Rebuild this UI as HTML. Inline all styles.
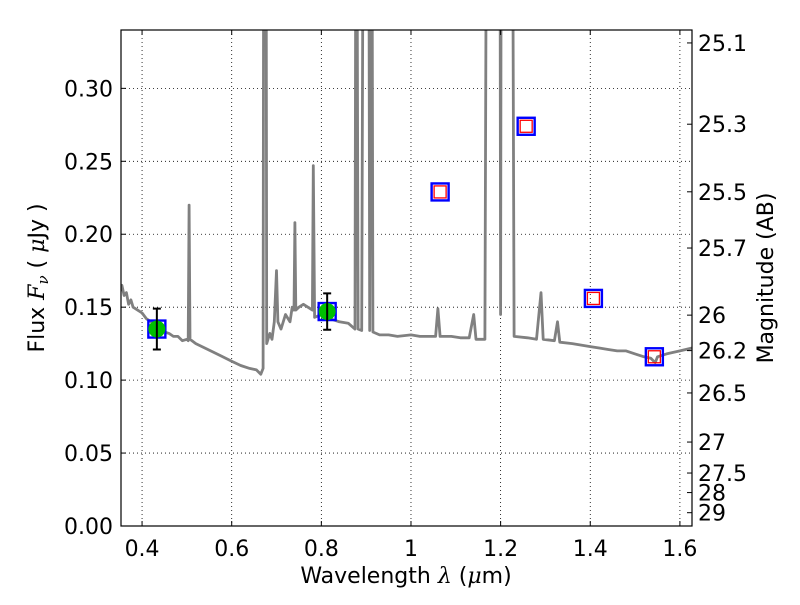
<!DOCTYPE html>
<html><head><meta charset="utf-8"><style>
html,body{margin:0;padding:0;background:#fff;}
svg text{font-family:"DejaVu Sans","Liberation Sans",sans-serif;fill:#000;}
</style></head><body>
<svg id="chart" width="800" height="600" viewBox="0 0 800 600" xmlns="http://www.w3.org/2000/svg">
<defs><clipPath id="pc"><rect x="121" y="30" width="571" height="496"/></clipPath></defs>
<rect x="0" y="0" width="800" height="600" fill="#fff"/>
<g id="grid"></g>
<g id="series" clip-path="url(#pc)"></g>
<rect x="121" y="30" width="571" height="496" fill="none" stroke="#000" stroke-width="1.2"/>
<g id="axes"></g>
<text x="406" y="583" font-size="22" text-anchor="middle">Wavelength  <tspan font-style="italic" font-family="DejaVu Serif, Liberation Serif, serif">λ</tspan> (<tspan font-style="italic" font-family="DejaVu Serif, Liberation Serif, serif">μ</tspan>m)</text>
<text transform="translate(44,278) rotate(-90)" font-size="22" text-anchor="middle">Flux  <tspan font-style="italic" font-family="DejaVu Serif, Liberation Serif, serif">F<tspan font-size="15" dy="4">ν</tspan></tspan><tspan dy="-4">  (  </tspan><tspan font-style="italic" font-family="DejaVu Serif, Liberation Serif, serif">μ</tspan>Jy )</text>
<text transform="translate(773,278) rotate(-90)" font-size="22" text-anchor="middle">Magnitude (AB)</text>
</svg>
<script>
const specWl=[0.350,0.355,0.36,0.365,0.37,0.375,0.38,0.39,0.40,0.41,0.42,0.43,0.44,0.45,0.46,0.47,0.48,0.49,0.50,0.503,0.505,0.507,0.52,0.54,0.56,0.58,0.60,0.62,0.64,0.655,0.665,0.670,0.672,0.676,0.678,0.685,0.69,0.695,0.70,0.703,0.71,0.72,0.73,0.735,0.739,0.741,0.743,0.75,0.76,0.77,0.78,0.782,0.785,0.80,0.82,0.84,0.86,0.875,0.878,0.882,0.89,0.895,0.905,0.908,0.912,0.915,0.93,0.95,0.97,1.00,1.02,1.04,1.055,1.06,1.065,1.09,1.11,1.13,1.14,1.145,1.165,1.17,1.198,1.200,1.202,1.225,1.23,1.26,1.28,1.29,1.295,1.32,1.327,1.332,1.36,1.40,1.42,1.44,1.46,1.48,1.50,1.52,1.535,1.545,1.55,1.57,1.60,1.627];
const specFlux=[0.160,0.165,0.158,0.160,0.152,0.155,0.150,0.148,0.146,0.142,0.140,0.137,0.135,0.133,0.132,0.130,0.130,0.127,0.128,0.127,0.220,0.128,0.125,0.122,0.119,0.116,0.113,0.110,0.108,0.107,0.104,0.108,0.6,0.6,0.125,0.132,0.128,0.140,0.175,0.140,0.135,0.145,0.140,0.150,0.148,0.208,0.148,0.150,0.152,0.150,0.148,0.247,0.143,0.145,0.142,0.140,0.139,0.135,0.6,0.135,0.134,0.6,0.6,0.134,0.6,0.133,0.131,0.131,0.130,0.131,0.130,0.130,0.130,0.149,0.130,0.130,0.129,0.129,0.145,0.128,0.128,0.6,0.6,0.145,0.6,0.6,0.130,0.129,0.128,0.160,0.128,0.127,0.140,0.126,0.125,0.123,0.122,0.121,0.120,0.120,0.118,0.116,0.115,0.112,0.116,0.118,0.120,0.122];
const detWl=[0.433,0.813];
const detFlux=[0.135,0.147];
const detErr=[0.014,0.0125];
const modelWl=[0.433,0.813,1.065,1.257,1.407,1.543];
const modelFlux=[0.135,0.147,0.229,0.274,0.156,0.116];
const xTicks=[0.4,0.6,0.8,1.0,1.2,1.4,1.6];
const xTickLabels=["0.4","0.6","0.8","1","1.2","1.4","1.6"];
const yTicks=[0,0.05,0.10,0.15,0.20,0.25,0.30];
const yTickLabels=["0.00","0.05","0.10","0.15","0.20","0.25","0.30"];
const magTicks=[25.1,25.3,25.5,25.7,26,26.2,26.5,27,27.5,28,29];
const magTickLabels=["25.1","25.3","25.5","25.7","26","26.2","26.5","27","27.5","28","29"];

const X0=121,X1=692,Y0=526,Y1=30,xmin=0.353,xmax=1.627,ymin=0,ymax=0.34;
const sx=v=>X0+(v-xmin)/(xmax-xmin)*(X1-X0);
const sy=v=>Y0-(v-ymin)/(ymax-ymin)*(Y0-Y1);
const NS="http://www.w3.org/2000/svg";
function mk(tag,attrs,parent){const e=document.createElementNS(NS,tag);for(const k in attrs)e.setAttribute(k,attrs[k]);parent.appendChild(e);return e;}
const grid=document.getElementById('grid'),axes=document.getElementById('axes'),series=document.getElementById('series');

xTicks.forEach((t,i)=>{const x=sx(t);
 const g=mk('line',{x1:x,x2:x,y1:Y1,y2:Y0,stroke:'#000','stroke-width':0.8,'stroke-dasharray':'1,3'},grid);
 
 
 mk('line',{x1:x,x2:x,y1:Y0,y2:Y0-5,stroke:'#000'},axes);
 mk('line',{x1:x,x2:x,y1:Y1,y2:Y1+5,stroke:'#000'},axes);
 const tx=mk('text',{x:x,y:Y0+30,'font-size':22,'text-anchor':'middle'},axes);tx.textContent=xTickLabels[i];
 
 
});
yTicks.forEach((t,i)=>{const y=sy(t);
 if(t>0){const g=mk('line',{x1:X0,x2:X1,y1:y,y2:y,stroke:'#000','stroke-width':0.8,'stroke-dasharray':'1,3'},grid);
 
 }
 mk('line',{x1:X0,x2:X0+5,y1:y,y2:y,stroke:'#000'},axes);
 const tx=mk('text',{x:X0-8,y:y+8,'font-size':22,'text-anchor':'end'},axes);tx.textContent=yTickLabels[i];
 
 
});
magTicks.forEach((m,i)=>{const f=Math.pow(10,(23.9-m)/2.5);const y=sy(f);
 mk('line',{x1:X1,x2:X1-5,y1:y,y2:y,stroke:'#000'},axes);
 const tx=mk('text',{x:X1+6,y:y+8,'font-size':22},axes);tx.textContent=magTickLabels[i];
 
 
});

const pts=specWl.map((w,i)=>sx(w).toFixed(1)+','+sy(specFlux[i]).toFixed(1)).join(' ');
const pl=mk('polyline',{points:pts,fill:'none',stroke:'#808080','stroke-width':2.8,'stroke-linejoin':'round'},series);



modelWl.forEach((w,i)=>{const x=sx(w),y=sy(modelFlux[i]);
 const b=mk('rect',{x:x-8.5,y:y-8.5,width:17,height:17,fill:'none',stroke:'#0000ff','stroke-width':2.4},series);
 
 
 if(i>=2){const r=mk('rect',{x:x-6,y:y-6,width:12,height:12,fill:'none',stroke:'#ff0000','stroke-width':1.3},series);
 
 }
});
detWl.forEach((w,i)=>{const x=sx(w),y=sy(detFlux[i]),yt=sy(detFlux[i]+detErr[i]),yb=sy(detFlux[i]-detErr[i]);
 const c=mk('circle',{cx:x,cy:y,r:8.5,fill:'#00c000'},series);
 
 
 const e=mk('path',{d:`M${x},${yt}V${yb}M${x-4},${yt}H${x+4}M${x-4},${yb}H${x+4}`,stroke:'#000','stroke-width':2,fill:'none'},series);
 
 
});
</script>
</body></html>
